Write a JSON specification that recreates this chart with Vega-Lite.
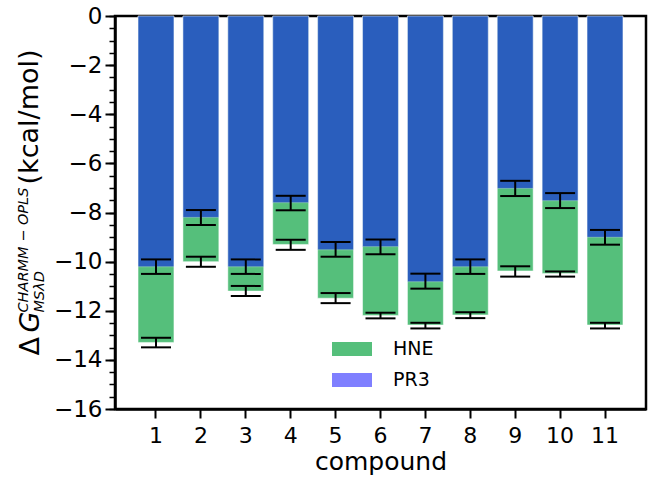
{
  "$schema": "https://vega.github.io/schema/vega-lite/v6.json",
  "width": 531,
  "height": 393,
  "autosize": {"type": "none"},
  "padding": {"left": 115, "top": 16, "right": 2, "bottom": 68},
  "background": "white",
  "config": {
    "view": {"stroke": "black", "strokeWidth": 2.5},
    "font": "DejaVu Sans",
    "axis": {"labelFont": "DejaVu Sans", "titleFont": "DejaVu Sans", "labelColor": "black", "titleColor": "black", "domainColor": "black", "tickColor": "black", "grid": false, "titleFontWeight": "normal"},
    "legend": {"labelFont": "DejaVu Sans"}
  },
  "data": {"values": [
    {"compound": 1, "series": "HNE", "dg": -13.29, "lo": -13.49, "hi": -13.10},
    {"compound": 2, "series": "HNE", "dg": -10.00, "lo": -10.21, "hi": -9.80},
    {"compound": 3, "series": "HNE", "dg": -11.20, "lo": -11.40, "hi": -10.99},
    {"compound": 4, "series": "HNE", "dg": -9.30, "lo": -9.52, "hi": -9.11},
    {"compound": 5, "series": "HNE", "dg": -11.49, "lo": -11.69, "hi": -11.28},
    {"compound": 6, "series": "HNE", "dg": -12.19, "lo": -12.31, "hi": -12.08},
    {"compound": 7, "series": "HNE", "dg": -12.58, "lo": -12.72, "hi": -12.49},
    {"compound": 8, "series": "HNE", "dg": -12.17, "lo": -12.30, "hi": -12.06},
    {"compound": 9, "series": "HNE", "dg": -10.38, "lo": -10.61, "hi": -10.19},
    {"compound": 10, "series": "HNE", "dg": -10.48, "lo": -10.61, "hi": -10.40},
    {"compound": 11, "series": "HNE", "dg": -12.58, "lo": -12.72, "hi": -12.49},
    {"compound": 1, "series": "PR3", "dg": -10.21, "lo": -10.50, "hi": -9.91},
    {"compound": 2, "series": "PR3", "dg": -8.20, "lo": -8.51, "hi": -7.90},
    {"compound": 3, "series": "PR3", "dg": -10.21, "lo": -10.50, "hi": -9.91},
    {"compound": 4, "series": "PR3", "dg": -7.60, "lo": -7.91, "hi": -7.32},
    {"compound": 5, "series": "PR3", "dg": -9.52, "lo": -9.80, "hi": -9.20},
    {"compound": 6, "series": "PR3", "dg": -9.39, "lo": -9.70, "hi": -9.10},
    {"compound": 7, "series": "PR3", "dg": -10.82, "lo": -11.10, "hi": -10.49},
    {"compound": 8, "series": "PR3", "dg": -10.21, "lo": -10.50, "hi": -9.91},
    {"compound": 9, "series": "PR3", "dg": -7.02, "lo": -7.33, "hi": -6.71},
    {"compound": 10, "series": "PR3", "dg": -7.52, "lo": -7.82, "hi": -7.21},
    {"compound": 11, "series": "PR3", "dg": -9.01, "lo": -9.31, "hi": -8.71}
  ]},
  "encoding": {
    "x": {
      "field": "compound", "type": "ordinal",
      "scale": {"paddingInner": 0.2, "paddingOuter": 0.513},
      "axis": {"title": "compound", "labelAngle": 0, "labelFontSize": 22, "tickSize": 9, "tickWidth": 2, "domainWidth": 2.5, "titleFontSize": 25, "labelPadding": 7, "titlePadding": 3}
    }
  },
  "layer": [
    {
      "mark": {"type": "bar", "stroke": "white", "strokeWidth": 1, "strokeOpacity": 0.5},
      "encoding": {
        "y": {
          "field": "dg", "type": "quantitative", "stack": null,
          "scale": {"domain": [-16, 0], "nice": false, "zero": false},
          "axis": {"orient": "left", "values": [0, -2, -4, -6, -8, -10, -12, -14, -16], "labelFontSize": 23, "tickSize": 10, "tickWidth": 2, "domainWidth": 2.5, "labelPadding": 3,
                   "title": "Δ", "titleFontSize": 27, "titleAngle": 270, "titleAlign": "left", "titleBaseline": "alphabetic", "titleX": -77, "titleY": 339}
        },
        "color": {"field": "series", "type": "nominal", "scale": {"domain": ["HNE", "PR3"], "range": ["#55bf7b", "#0000ff"]},
                  "legend": {"title": null, "orient": "none", "legendX": 227, "legendY": 323, "padding": 0, "symbolType": "M-2,-0.7H2V0.7H-2Z", "symbolSize": 400, "symbolStrokeWidth": 0, "labelFontSize": 19, "labelOffset": 31, "rowPadding": 11, "labelColor": "black"}},
        "opacity": {"field": "series", "type": "nominal", "scale": {"domain": ["HNE", "PR3"], "range": [1, 0.5]},
                  "legend": {"title": null, "orient": "none", "legendX": 227, "legendY": 323, "padding": 0, "symbolType": "M-2,-0.7H2V0.7H-2Z", "symbolSize": 400, "symbolStrokeWidth": 0, "labelFontSize": 19, "labelOffset": 31, "rowPadding": 11, "labelColor": "black"}}
      }
    },
    {
      "mark": {"type": "rule", "color": "black", "strokeWidth": 2},
      "encoding": {"y": {"field": "lo", "type": "quantitative", "axis": null}, "y2": {"field": "hi"}}
    },
    {
      "mark": {"type": "tick", "color": "black", "size": 30, "thickness": 2, "opacity": 1},
      "encoding": {"y": {"field": "lo", "type": "quantitative", "axis": null}}
    },
    {
      "mark": {"type": "tick", "color": "black", "size": 30, "thickness": 2, "opacity": 1},
      "encoding": {"y": {"field": "hi", "type": "quantitative", "axis": null}}
    },
    {
      "mark": {"type": "point", "opacity": 0},
      "encoding": {"y": {"field": "dg", "type": "quantitative",
        "axis": {"orient": "left", "values": [0, -0.5, -1, -1.5, -2, -2.5, -3, -3.5, -4, -4.5, -5, -5.5, -6, -6.5, -7, -7.5, -8, -8.5, -9, -9.5, -10, -10.5, -11, -11.5, -12, -12.5, -13, -13.5, -14, -14.5, -15, -15.5, -16],
                 "labels": false, "domain": false, "tickSize": 6, "tickWidth": 1.5,
                 "title": "(kcal/mol)", "titleFontSize": 27, "titleAngle": 270, "titleAlign": "left", "titleBaseline": "alphabetic", "titleX": -78, "titleY": 168}}}
    },
    {
      "mark": {"type": "point", "opacity": 0},
      "encoding": {"y": {"field": "dg", "type": "quantitative",
        "axis": {"orient": "left", "labels": false, "domain": false, "ticks": false,
                 "title": "G", "titleFontSize": 27, "titleFontStyle": "italic", "titleAngle": 270, "titleAlign": "left", "titleBaseline": "alphabetic", "titleX": -77, "titleY": 316}}}
    },
    {
      "mark": {"type": "point", "opacity": 0},
      "encoding": {"y": {"field": "dg", "type": "quantitative",
        "axis": {"orient": "left", "labels": false, "domain": false, "ticks": false,
                 "title": "CHARMM − OPLS", "titleFontSize": 14.5, "titleFontStyle": "italic", "titleAngle": 270, "titleAlign": "left", "titleBaseline": "alphabetic", "titleX": -88, "titleY": 296}}}
    },
    {
      "mark": {"type": "point", "opacity": 0},
      "encoding": {"y": {"field": "dg", "type": "quantitative",
        "axis": {"orient": "left", "labels": false, "domain": false, "ticks": false,
                 "title": "MSλD", "titleFontSize": 14.5, "titleFontStyle": "italic", "titleAngle": 270, "titleAlign": "left", "titleBaseline": "alphabetic", "titleX": -72, "titleY": 296}}}
    }
  ],
  "resolve": {"axis": {"y": "independent"}}
}
